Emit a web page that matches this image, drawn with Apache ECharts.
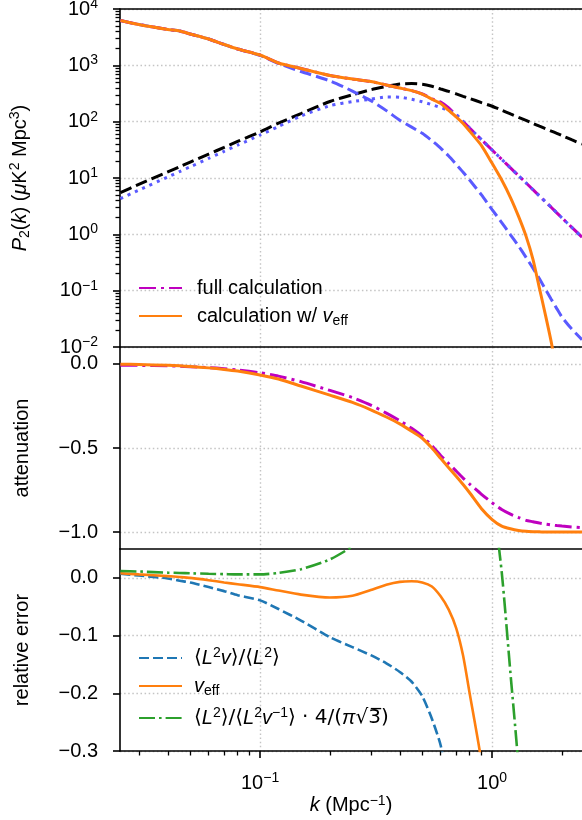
<!DOCTYPE html>
<html><head><meta charset="utf-8">
<script src="https://cdn.jsdelivr.net/npm/echarts@6/dist/echarts.min.js"></script>
<style>html,body{margin:0;padding:0;background:#fff}#c{width:582px;height:820px}</style>
</head><body><div id="c"></div>
<script>
// ---- data ----
const kValues = [0.025,0.03,0.04,0.045,0.05,0.06,0.07,0.08,0.1,0.12,0.15,0.2,0.25,0.3,0.35,0.4,0.45,0.5,0.55,0.6,0.65,0.7,0.75,0.8,0.9,1.0,1.1,1.2,1.3,1.4,1.5,1.6,1.7,1.8,1.9,2.0,2.2,2.44];
// panel 1: P2(k)
const pFull   = [6250,5310,4330,4060,3600,2930,2340,1950,1525,1100,880,660,571,516,448,396,355,310,255,222,175,131,100,77,48,31.4,21.4,15.1,11.0,8.2,6.2,4.8,3.76,3.0,2.41,1.96,1.34,0.89];
const pVeff   = [6250,5310,4330,4060,3600,2930,2340,1950,1525,1100,880,660,571,516,448,396,355,308,251,210,158,122,93,68,37.6,18.2,9.2,4.5,2.08,0.93,0.36,0.11,0.036,0.012,0.0035,0.0009,0.0001,0.00001];
const pNoMot  = [6250,5310,4330,4060,3600,2930,2340,1950,1500,1080,776,530,349,236,157,106,80,62,46,34,24.5,17.5,12.7,9.2,5.0,2.75,1.62,0.98,0.62,0.39,0.25,0.162,0.105,0.070,0.048,0.034,0.021,0.0135];
const pBlack  = [5.5,7.7,12.8,15.8,19.2,26.6,34.9,44.5,66,94,139,228,300,368,421,468,475,462,425,380,345,311,282,258,218,188,160,137,119,105,93,83,75,68,62,56.5,47.8,40];
const pDotted = [4.3,6.1,10.4,13,15.8,22.3,29.8,38.2,58,82,126,192,227,250,275,272,250,225,200,178,158,135,101,77,48,31.4,21.4,15.1,11.0,8.2,6.2,4.8,3.76,3.0,2.41,1.96,1.34,0.89];
// panel 2: attenuation
const attFull = [-0.008,-0.009,-0.012,-0.014,-0.017,-0.022,-0.029,-0.036,-0.053,-0.073,-0.106,-0.158,-0.2,-0.245,-0.293,-0.338,-0.383,-0.43,-0.487,-0.544,-0.593,-0.637,-0.679,-0.714,-0.775,-0.825,-0.865,-0.893,-0.913,-0.93,-0.938,-0.946,-0.952,-0.957,-0.961,-0.964,-0.969,-0.974];
const attVeff = [-0.002,-0.004,-0.009,-0.012,-0.016,-0.024,-0.033,-0.043,-0.066,-0.09,-0.132,-0.186,-0.229,-0.273,-0.316,-0.357,-0.4,-0.442,-0.5,-0.561,-0.617,-0.668,-0.717,-0.766,-0.861,-0.925,-0.964,-0.98,-0.99,-0.995,-0.997,-0.998,-0.999,-0.999,-0.999,-0.999,-0.999,-0.999];
// panel 3: relative error
const errL2v   = [0.007,0.004,-0.001,-0.005,-0.008,-0.016,-0.023,-0.03,-0.039,-0.054,-0.074,-0.103,-0.12,-0.134,-0.148,-0.163,-0.18,-0.205,-0.244,-0.29,-0.37,-0.45,-0.53,-0.6,-0.75,-0.9,-1.05,-1.2,-1.35,-1.5,-1.6,-1.7,-1.8,-1.9,-2.0,-2.1,-2.2,-2.3];
const errVeff  = [0.008,0.006,0.003,0.0015,0.0,-0.004,-0.008,-0.011,-0.016,-0.022,-0.029,-0.034,-0.031,-0.021,-0.012,-0.007,-0.006,-0.008,-0.015,-0.032,-0.055,-0.087,-0.135,-0.2,-0.32,-0.5,-0.7,-0.9,-1.1,-1.3,-1.5,-1.7,-1.9,-2.1,-2.3,-2.5,-2.7,-3.0];
const errL2inv = [0.012,0.011,0.009,0.0085,0.008,0.007,0.0065,0.006,0.006,0.0085,0.015,0.032,0.055,0.09,0.12,0.15,0.17,0.19,0.21,0.22,0.23,0.235,0.235,0.23,0.2,0.14,0.01,-0.166,-0.33,-0.6,-0.9,-1.2,-1.5,-1.8,-2.1,-2.4,-2.8,-3.2];
// ticks
const xMajorTicks = [0.1, 1];
const xMinorTicks = [0.03,0.04,0.05,0.06,0.07,0.08,0.09,0.2,0.3,0.4,0.5,0.6,0.7,0.8,0.9,2];
const pMajorTicks = [0.01,0.1,1,10,100,1000,10000];
const pMinorTicks = [];
for (const d of [0.01,0.1,1,10,100,1000]) for (let m = 2; m <= 9; m++) pMinorTicks.push(+(d*m).toPrecision(3));
const attTicks = [-1.0,-0.5,0.0];
const errTicks = [-0.3,-0.2,-0.1,0.0];

// ---- styling ----
const FONT = 'Liberation Sans';
const K_MIN = 0.0249, K_MAX = 2.44;
const gridLine = {show:true, lineStyle:{color:'#c4c4c4', width:1.4, type:[1.5,2.6]}};
const axisLineStyle = {show:true, onZero:false, lineStyle:{color:'#000', width:1.6}};
const noLine = {show:false, onZero:false};
const richBase = {
  b:{fontSize:20, fontFamily:FONT, color:'#000', lineHeight:24},
  i:{fontSize:20, fontFamily:FONT, fontStyle:'italic', color:'#000', lineHeight:24},
  s:{fontSize:14, fontFamily:FONT, color:'#000', lineHeight:12, verticalAlign:'top'},
  sub:{fontSize:14, fontFamily:FONT, color:'#000', lineHeight:14, verticalAlign:'bottom'},
  m:{fontSize:20, fontFamily:'DejaVu Sans', color:'#000', lineHeight:24}
};
function minus(s){ return s.replace('-', '\u2212'); }
function pow10(v){ const e = Math.round(Math.log10(v)); return '{b|10}{s|' + minus(String(e)) + '}'; }
function dec1(v){ return minus(v.toFixed(1)); }
function pairs(arr){ return kValues.map((k,i)=>[k, arr[i]]); }

function xAx(gridIndex, extra){
  return Object.assign({type:'log', logBase:10, gridIndex, min:K_MIN, max:K_MAX, position:'bottom',
    axisLine:noLine, axisTick:{show:false}, axisLabel:{show:false}, splitLine:{show:false}}, extra);
}
function yAx(gridIndex, extra){
  return Object.assign({gridIndex, position:'left', axisLine:axisLineStyle, splitLine:gridLine}, extra);
}
const majTick = (vals)=>({show:true, customValues:vals, length:7, lineStyle:{color:'#000', width:1.6}});
const minTick = (vals)=>({show:true, customValues:vals, length:4.5, lineStyle:{color:'#000', width:1.3}});
const lbl = (vals, fmt, margin)=>({show:true, customValues:vals, formatter:fmt, margin, fontSize:20, fontFamily:FONT, color:'#000', rich:richBase});

function line(name, xi, yi, arr, color, width, type, z){
  return {name, type:'line', xAxisIndex:xi, yAxisIndex:yi, data:pairs(arr), symbol:'none', smooth:0.2, z,
    lineStyle:{color, width, type}, itemStyle:{color}, emphasis:{disabled:true}};
}

const option = {
  animation:false,
  grid:[
    {left:120, top:9, width:462, height:338, containLabel:false, outerBoundsMode:'none'},
    {left:120, top:347, width:462, height:202, containLabel:false, outerBoundsMode:'none'},
    {left:120, top:549, width:462, height:202, containLabel:false, outerBoundsMode:'none'}
  ],
  xAxis:[
    xAx(0, {axisLine:axisLineStyle, axisTick:{show:false, customValues:xMajorTicks}, splitLine:gridLine}),
    xAx(0, {position:'top', axisLine:axisLineStyle}),
    xAx(1, {axisLine:axisLineStyle, axisTick:{show:false, customValues:xMajorTicks}, splitLine:gridLine}),
    xAx(2, {axisLine:axisLineStyle, axisTick:majTick(xMajorTicks), splitLine:gridLine,
      axisLabel:lbl(xMajorTicks, pow10, 20),
      name:'{i|k}{b| (Mpc}{s|\u22121}{b|)}', nameLocation:'middle', nameGap:41,
      nameTextStyle:{fontSize:20, fontFamily:FONT, color:'#000', rich:richBase}}),
    xAx(2, {position:'bottom', axisLine:noLine, axisTick:minTick(xMinorTicks)})
  ],
  yAxis:[
    yAx(0, {type:'log', logBase:10, min:0.01, max:10000, axisTick:majTick(pMajorTicks),
      axisLabel:lbl(pMajorTicks, pow10, 22),
      name:'{i|P}{sub|2}{b|(}{i|k}{b|) (}{i|\u03bc}{b|K}{s|2}{b| Mpc}{s|3}{b|)}',
      nameLocation:'middle', nameRotate:90, nameGap:88,
      nameTextStyle:{fontSize:20, fontFamily:FONT, color:'#000', rich:richBase}}),
    {type:'log', logBase:10, gridIndex:0, position:'left', min:0.01, max:10000, axisLine:noLine, axisLabel:{show:false},
      splitLine:{show:false}, axisTick:minTick(pMinorTicks)},
    yAx(1, {type:'value', min:-1.1, max:0.1, axisTick:majTick(attTicks),
      axisLabel:lbl(attTicks, dec1, 22),
      name:'attenuation', nameLocation:'middle', nameRotate:90, nameGap:88,
      nameTextStyle:{fontSize:20, fontFamily:FONT, color:'#000'}}),
    yAx(2, {type:'value', min:-0.3, max:0.05, axisTick:majTick(errTicks),
      axisLabel:lbl(errTicks, dec1, 22),
      name:'relative error', nameLocation:'middle', nameRotate:90, nameGap:88,
      nameTextStyle:{fontSize:20, fontFamily:FONT, color:'#000'}})
  ],
  legend:[
    {data:['full calculation','calculation w/ veff'], orient:'vertical', left:138, top:278, padding:0,
      itemGap:8, itemWidth:43, itemHeight:14, selectedMode:false,
      itemStyle:{opacity:0, borderWidth:0},
      textStyle:{fontSize:20, fontFamily:FONT, color:'#000', padding:[0,0,0,10], rich:richBase},
      formatter:(n)=> n === 'full calculation' ? '{b|full calculation}' : '{b|calculation w/ }{i|v}{sub|eff}'},
    {data:['L2v','veff','L2inv'], orient:'vertical', left:138, top:646, padding:0,
      itemGap:8, itemWidth:43, itemHeight:14, selectedMode:false,
      itemStyle:{opacity:0, borderWidth:0},
      textStyle:{fontSize:20, fontFamily:FONT, color:'#000', padding:[0,0,0,7], rich:richBase},
      formatter:(n)=> n === 'L2v' ? '{m|\u27e8}{i|L}{s|2}{i|v}{m|\u27e9/\u27e8}{i|L}{s|2}{m|\u27e9}'
        : n === 'veff' ? '{i|v}{sub|eff}'
        : '{m|\u27e8}{i|L}{s|2}{m|\u27e9/\u27e8}{i|L}{s|2}{i|v}{s|\u22121}{m|\u27e9 \u00b7 4/(}{i|\u03c0}{m|\u221a3\u0305)}'}
  ],
  series:[
    line('black', 0, 0, pBlack, '#000000', 3, [12,5], 2),
    line('nomotion', 0, 0, pNoMot, '#5a5aff', 3, [12,5], 3),
    line('full calculation', 0, 0, pFull, '#bf00bf', 3, [17,5,3,5], 4),
    line('dotted', 0, 0, pDotted, '#5a5aff', 3, [3,5], 5),
    line('calculation w/ veff', 0, 0, pVeff, '#ff7f0e', 3, 'solid', 6),
    line('att full', 2, 2, attFull, '#bf00bf', 3, [17,5,3,5], 4),
    line('att veff', 2, 2, attVeff, '#ff7f0e', 3, 'solid', 5),
    line('L2v', 3, 3, errL2v, '#1f77b4', 2.6, [10,4], 3),
    line('veff', 3, 3, errVeff, '#ff7f0e', 2.6, 'solid', 4),
    line('L2inv', 3, 3, errL2inv, '#2ca02c', 2.6, [16,4,2.6,4], 5)
  ]
};
const chart = echarts.init(document.getElementById('c'), null, {renderer:'canvas'});
chart.setOption(option);
</script></body></html>
